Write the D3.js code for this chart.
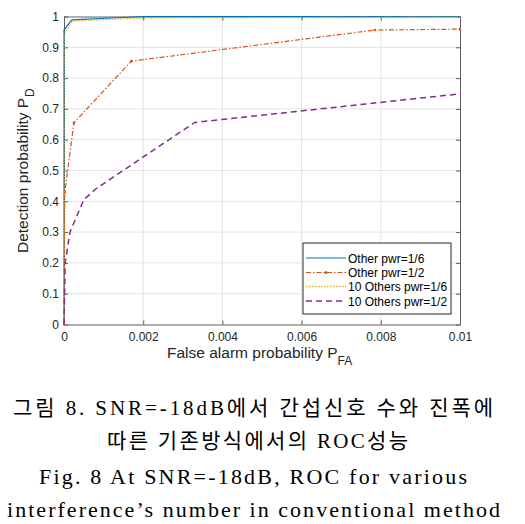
<!DOCTYPE html>
<html><head><meta charset="utf-8">
<script src="https://cdn.jsdelivr.net/npm/d3@7"></script>
<style>body{margin:0;background:#fff}svg{display:block}</style>
</head><body>
<script>
const seriesNames = ["Other pwr=1/6","Other pwr=1/2","10 Others pwr=1/6","10 Others pwr=1/2"];
const s1 = [[0,0],[0,0.956],[0.0002,0.989],[0.002,1],[0.01,1]];
const s2 = [[0,0],[0.00002,0.43],[0.00025,0.655],[0.0017,0.855],[0.00785,0.956],[0.01,0.959]];
const s3 = [[0,0],[0,0.94],[0.0002,0.985],[0.002,0.995],[0.01,0.998]];
const s4 = [[0,0],[0.00003,0.2],[0.00015,0.3],[0.0005,0.405],[0.0008,0.44],[0.0033,0.656],[0.01,0.749]];
const xTicks = [0,0.002,0.004,0.006,0.008,0.01];
const xTickLabels = ["0","0.002","0.004","0.006","0.008","0.01"];
const yTicks = [0,0.1,0.2,0.3,0.4,0.5,0.6,0.7,0.8,0.9,1];
const yTickLabels = ["0","0.1","0.2","0.3","0.4","0.5","0.6","0.7","0.8","0.9","1"];
const captionLines = ["그림 8. SNR=-18dB에서 간섭신호 수와 진폭에","따른 기존방식에서의 ROC성능","Fig. 8 At SNR=-18dB, ROC for various","interference’s number in conventional method"];

const W=525,H=524;
const L=64,R=460,T=16.5,B=324.5;
const svg=d3.select("body").append("svg").attr("width",W).attr("height",H);
const x=d3.scaleLinear().domain([0,0.01]).range([L,R]);
const y=d3.scaleLinear().domain([0,1]).range([B,T]);
const font="'Liberation Sans', Arial, sans-serif";

// grid
svg.append("g").selectAll("line").data(xTicks.slice(1,-1)).join("line")
  .attr("x1",d=>x(d)).attr("x2",d=>x(d)).attr("y1",T).attr("y2",B)
  .attr("stroke","#e3e3e3").attr("stroke-width",1);
svg.append("g").selectAll("line").data(yTicks.slice(1,-1)).join("line")
  .attr("y1",d=>y(d)).attr("y2",d=>y(d)).attr("x1",L).attr("x2",R)
  .attr("stroke","#e3e3e3").attr("stroke-width",1);

// axes
const axColor="#5e5e5e";
const xAx=svg.append("g").attr("transform",`translate(0,${B})`)
  .call(d3.axisBottom(x).tickValues(xTicks).tickFormat((d,i)=>xTickLabels[i]).tickSizeInner(-4).tickSizeOuter(0).tickPadding(8));
const yAx=svg.append("g").attr("transform",`translate(${L},0)`)
  .call(d3.axisLeft(y).tickValues(yTicks).tickFormat((d,i)=>yTickLabels[i]).tickSizeInner(-4).tickSizeOuter(0).tickPadding(5));
const xTop=svg.append("g").attr("transform",`translate(0,${T})`)
  .call(d3.axisTop(x).tickValues(xTicks).tickFormat("").tickSizeInner(-4).tickSizeOuter(0));
const yRight=svg.append("g").attr("transform",`translate(${R},0)`)
  .call(d3.axisRight(y).tickValues(yTicks).tickFormat("").tickSizeInner(-4).tickSizeOuter(0));
[xAx,yAx,xTop,yRight].forEach(g=>{
  g.selectAll("path,line").attr("stroke",axColor);
  g.selectAll("text").attr("fill","#262626").style("font-family",font).style("font-size","12px");
});

// lines
const line=d3.line().x(d=>x(d[0])).y(d=>y(d[1]));
const styles=[
  {data:s1,color:"#0072BD",dash:null,w:1.2},
  {data:s2,color:"#D95319",dash:"5,2,1.5,2",w:1.2,marker:true},
  {data:s3,color:"#EDB120",dash:"1.5,1.5",w:1.3},
  {data:s4,color:"#7E2F8E",dash:"6,4",w:1.5}
];
const plot=svg.append("g");
styles.forEach(s=>{
  plot.append("path").datum(s.data).attr("d",line).attr("fill","none")
    .attr("stroke",s.color).attr("stroke-width",s.w).attr("stroke-dasharray",s.dash);
  if(s.marker){
    plot.selectAll(null).data(s.data).join("circle").attr("cx",d=>x(d[0])).attr("cy",d=>y(d[1]))
      .attr("r",1.3).attr("fill",s.color);
  }
});

// axis labels
const xl=svg.append("text").attr("x",167).attr("y",358).attr("fill","#262626")
  .style("font-family",font).style("font-size","15.5px");
xl.append("tspan").text("False alarm probability P");
xl.append("tspan").attr("dy",7).style("font-size","12px").text("FA");
const yl=svg.append("text").attr("transform","translate(28,253) rotate(-90)").attr("fill","#262626")
  .style("font-family",font).style("font-size","15.5px");
yl.append("tspan").text("Detection probability P");
yl.append("tspan").attr("dy",6).attr("dx",1).style("font-size","12px").text("D");

// legend
const lg=svg.append("g");
lg.append("rect").attr("x",303).attr("y",243).attr("width",148).attr("height",71)
  .attr("fill","#fff").attr("stroke","#262626").attr("stroke-width",1);
const rowY=[258,272.5,286.5,301];
styles.forEach((s,i)=>{
  lg.append("line").attr("x1",306).attr("x2",346).attr("y1",rowY[i]).attr("y2",rowY[i])
    .attr("stroke",s.color).attr("stroke-width",s.w).attr("stroke-dasharray",s.dash);
  if(s.marker) lg.append("circle").attr("cx",326).attr("cy",rowY[i]).attr("r",1.5).attr("fill",s.color);
  lg.append("text").attr("x",348).attr("y",rowY[i]+4.5).text(seriesNames[i])
    .attr("fill","#000").style("font-family",font).style("font-size","12px");
});

// caption
const capFont="'Liberation Serif','Noto Sans CJK KR',serif";
const cap=[{t:captionLines[0],x:13,w:480,y:415,fs:21},{t:captionLines[1],x:107,w:301,y:448,fs:21},
  {t:captionLines[2],x:39,w:428,y:484,fs:22},{t:captionLines[3],x:7,w:493,y:517,fs:22}];
cap.forEach(c=>{
  svg.append("text").attr("x",c.x).attr("y",c.y).attr("textLength",c.w).attr("lengthAdjust","spacing")
    .text(c.t).attr("fill","#000").style("font-family",capFont).style("font-size",c.fs+"px");
});
</script>
</body></html>
